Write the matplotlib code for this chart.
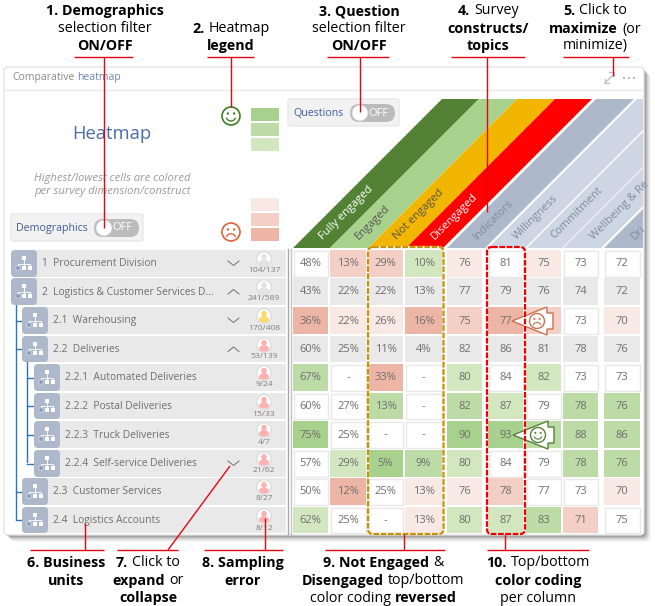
#!/usr/bin/env python3
import numpy as np
import matplotlib
matplotlib.use("Agg")
import matplotlib.pyplot as plt
from matplotlib.patches import Rectangle, Polygon, Circle, FancyBboxPatch, Ellipse

plt.rcParams['font.family'] = ['Open Sans', 'DejaVu Sans']

# --- data ---
unit_names = ["1  Procurement Division", "2  Logistics & Customer Services D...", "2.1  Warehousing",
              "2.2  Deliveries", "2.2.1  Automated Deliveries", "2.2.2  Postal Deliveries",
              "2.2.3  Truck Deliveries", "2.2.4  Self-service Deliveries", "2.3  Customer Services",
              "2.4  Logistics Accounts"]
unit_depth = [0, 0, 1, 1, 2, 2, 2, 2, 1, 1]
unit_toggle = ["down", "up", "down", "up", "", "", "", "down", "", ""]
unit_counts = ["104/137", "241/589", "170/408", "53/139", "9/24", "15/33", "4/7", "21/62", "8/27", "8/12"]
unit_status = ["ok", "ok", "warn", "bad", "bad", "bad", "bad", "bad", "bad", "bad"]

# last two are cut by the card edge in the screenshot
column_names = ["Fully engaged", "Engaged", "Not engaged", "Disengaged", "Indicators",
                "Willingness", "Commitment", "Wellbeing & Re", "Dri"]

fully_engaged = ["48%", "43%", "36%", "60%", "67%", "60%", "75%", "57%", "50%", "62%"]
engaged = ["13%", "22%", "22%", "25%", "-", "27%", "25%", "29%", "12%", "25%"]
not_engaged = ["29%", "22%", "26%", "11%", "33%", "13%", "-", "5%", "25%", "-"]
disengaged = ["10%", "13%", "16%", "4%", "-", "-", "-", "9%", "13%", "13%"]
indicators = ["76", "77", "75", "82", "80", "82", "90", "80", "76", "80"]
willingness = ["81", "79", "77", "86", "84", "87", "93", "84", "78", "87"]
commitment = ["75", "76", "", "81", "82", "79", "", "79", "77", "83"]
wellbeing = ["73", "74", "73", "78", "73", "78", "88", "78", "73", "71"]
drivers = ["72", "72", "70", "76", "73", "76", "86", "76", "70", "75"]

# heat level per cell: + green, - red, 0 white, 9 grey (expanded parent)
heat_levels = [
    [0, -2, -2, 1, -1, 0, -1, 0, 0],
    [9, 9, 9, 9, 9, 9, 9, 9, 9],
    [-3, -1, -1, -3, -2, -3, -2, 0, -1],
    [9, 9, 9, 9, 9, 9, 9, 9, 9],
    [2, 0, -3, 0, 1, 0, 1, 0, 0],
    [0, 0, 2, 0, 2, 1, 0, 2, 2],
    [3, 0, 0, 0, 3, 3, 2, 2, 2],
    [0, 1, 3, 2, 1, 0, 0, 2, 2],
    [0, -3, 0, -1, -1, -2, 0, 0, -1],
    [1, 0, 0, -1, 1, 1, 2, -2, 0],
]

# --- layout (pixels) ---
col_edges = [(293, 328), (330, 366), (368, 403), (405, 442), (447, 482),
             (488, 523), (526, 561), (563, 598), (604, 640)]
row_edges = [(250, 277), (278, 305), (307, 334), (336, 362), (364, 391),
             (393, 419), (421, 448), (450, 477), (478, 505), (507, 533)]
band_edges = [(293, 330), (330, 368), (368, 406), (406, 443), (447, 485),
              (488, 525), (527, 562), (563, 601), (604, 642)]
band_colors = ["#548235", "#A9D18E", "#F2B500", "#FF0000", "#ADB9CA",
               "#CFD6E3", "#CFD6E3", "#CFD6E3", "#ADB9CA"]
band_text_colors = ["white", "#555555", "#555555", "white", "#828B9B",
                    "#828B9B", "#828B9B", "#828B9B", "#828B9B"]
band_text_pos = [(346, 213), (373, 222), (419, 215), (455, 217), (493, 220),
                 (536, 217), (577, 213), (592, 238), (633, 238)]
heat_colors = {3: "#A9D18E", 2: "#BCDBA6", 1: "#D2E6C0", 0: "white", 9: "#E9E9E9",
               -1: "#F8E9E5", -2: "#F3CFC5", -3: "#ECB5A5"}
status_colors = {"ok": "#E4E4E4", "warn": "#FFD966", "bad": "#FFB0B0"}

RED = "#E30613"
GREY_TXT = "#6F6F6F"
BLUE_TXT = "#3F5E9A"
ICON = "#ADB9CA"

fig = plt.figure(figsize=(6.55, 6.06), dpi=100)
ax = fig.add_axes([0, 0, 1, 1])
ax.set_xlim(0, 655)
ax.set_ylim(606, 0)
ax.axis("off")
renderer = fig.canvas.get_renderer()


def rbox(x0, y0, x1, y1, fc, ec="none", r=3, lw=1, z=1, alpha=None):
    p = FancyBboxPatch((x0, y0), x1 - x0, y1 - y0, boxstyle=f"round,pad=0,rounding_size={r}",
                       fc=fc, ec=ec, lw=lw, zorder=z, alpha=alpha)
    ax.add_patch(p)
    return p


def rich_line(cx, y, runs, size=10.3, gap=4, z=20):
    # draws bold/regular pieces side by side, centred on cx
    parts = []
    for s, bold in runs:
        t = ax.text(0, y + 1, s, fontsize=size, fontweight="bold" if bold else "normal",
                    color="black", va="center", ha="left", zorder=z)
        parts.append((t, t.get_window_extent(renderer).width))
    total = sum(w for _, w in parts) + gap * (len(parts) - 1)
    x = cx - total / 2
    for t, w in parts:
        t.set_x(x)
        x += w + gap


def smiley(x, y, r, color, happy=True, z=5, lw=1.2):
    ax.add_patch(Circle((x, y), r, fc="white", ec=color, lw=lw, zorder=z))
    ax.add_patch(Circle((x - r * 0.35, y - r * 0.28), r * 0.09, fc=color, ec=color, lw=0.5, zorder=z + 1))
    ax.add_patch(Circle((x + r * 0.35, y - r * 0.28), r * 0.09, fc=color, ec=color, lw=0.5, zorder=z + 1))
    a = np.linspace(0.15 * np.pi, 0.85 * np.pi, 30)
    if happy:
        ax.plot(x + r * 0.55 * np.cos(a), y + r * 0.55 * np.sin(a), color=color, lw=lw * 0.8, zorder=z + 1)
    else:
        ax.plot(x + r * 0.55 * np.cos(a), y + r * 0.75 - r * 0.55 * np.sin(a), color=color, lw=lw * 0.8, zorder=z + 1)


def toggle(x0, y0, x1, y1, knob_x):
    rbox(x0, y0, x1, y1, "#BBBBBB", r=9, z=6)
    ax.add_patch(Circle((knob_x, (y0 + y1) / 2), 8, fc="white", ec="#D0D0D0", lw=0.6, zorder=7))
    ax.text((knob_x + x1) / 2 + 1, (y0 + y1) / 2, "OFF", color="white", fontsize=8, ha="center", va="center",
            zorder=7)


def org_icon(x0, y0, x1, y1):
    rbox(x0, y0, x1, y1, ICON, r=4, z=4)
    cx = (x0 + x1) / 2
    my = (y0 + y1) / 2
    ax.plot([cx, cx], [my - 5, my + 3], color="white", lw=0.6, zorder=5)
    ax.plot([cx - 6, cx + 6], [my, my], color="white", lw=0.6, zorder=5)
    for dx in (-6, 6):
        ax.plot([cx + dx, cx + dx], [my, my + 3], color="white", lw=0.6, zorder=5)
    ax.add_patch(Rectangle((cx - 2.2, my - 7.5), 4.4, 4.4, fc="white", zorder=5))
    ax.add_patch(Rectangle((cx - 8.2, my + 2), 4.4, 4.4, fc="#8498BA", ec="white", lw=0.3, zorder=5))
    ax.add_patch(Rectangle((cx - 2.2, my + 2), 4.4, 4.4, fc="white", zorder=5))
    ax.add_patch(Rectangle((cx + 3.8, my + 2), 4.4, 4.4, fc="white", zorder=5))


def callout(tip_x, y, color, happy):
    pts = [(tip_x, y), (tip_x + 35, y - 14), (tip_x + 35, y - 8), (tip_x + 41, y - 8),
           (tip_x + 41, y + 8), (tip_x + 35, y + 8), (tip_x + 35, y + 14)]
    ax.add_patch(Polygon(pts, closed=True, fc="white", ec=color, lw=1, zorder=8))
    smiley(tip_x + 25, y, 7.5, color, happy, z=11, lw=1)


# --- card with shadow ---
for i, a in zip(range(7, 0, -1), [0.04, 0.06, 0.08, 0.1, 0.14, 0.18, 0.25]):
    rbox(4 + i, 67 + i, 644 + i, 535 + i, "#404040", r=5, z=0.5, alpha=a)
card = rbox(4, 67, 644, 535, "white", ec="#E4E4E4", r=4, z=1)

ax.plot([5, 643], [90, 90], color="#E8E8E8", lw=1, zorder=2)
t = ax.text(12, 77.5, "Comparative", color="#8A8A8A", fontsize=7.5, va="center", zorder=3)
ax.text(12 + t.get_window_extent(renderer).width + 3, 77.5, "heatmap", color="#6C86AE", fontsize=7.5,
        va="center", zorder=3)

# maximize icon and menu dots
ax.plot([605, 612], [83, 76], color="#B9C4D6", lw=1, zorder=3)
ax.plot([605, 605, 609], [79, 83, 83], color="#B9C4D6", lw=1, zorder=3)
ax.plot([609, 614, 614], [72, 72, 76], color="#B9C4D6", lw=1, zorder=3)
for dx in (624, 629, 634):
    ax.add_patch(Circle((dx, 78), 1, fc="#A8A8A8", ec="none", zorder=3))

# --- left header ---
ax.text(112, 134, "Heatmap", color="#4A6DA7", fontsize=13.2, ha="center", va="center", zorder=3)
ax.text(112, 178.5, "Highest/lowest cells are colored", color="#9A9A9A", fontsize=8.1, style="italic",
        ha="center", va="center", zorder=3)
ax.text(112, 191.5, "per survey dimension/construct", color="#9A9A9A", fontsize=8.1, style="italic",
        ha="center", va="center", zorder=3)

rbox(11, 214, 143, 241, "#F2F2F2", ec="#E8E8E8", r=2, z=2)
ax.text(16, 228, "Demographics", color=BLUE_TXT, fontsize=7.7, va="center", zorder=3)
toggle(94, 219, 139, 237, 104)

rbox(288, 99, 399, 126, "#F2F2F2", ec="#E8E8E8", r=2, z=2)
ax.text(293, 113, "Questions", color=BLUE_TXT, fontsize=7.7, va="center", zorder=3)
toggle(350, 104, 395, 122, 360)

# legend
smiley(231, 116, 9, "#3F7F1F")
for y0, lev in zip((108, 123, 138), (3, 2, 1)):
    ax.add_patch(Rectangle((251, y0), 28, 13, fc=heat_colors[lev], ec="none", zorder=3))
for y0, lev in zip((198, 213, 228), (-1, -2, -3)):
    ax.add_patch(Rectangle((251, y0), 28, 13, fc=heat_colors[lev], ec="none", zorder=3))
smiley(231, 232, 9, "#E0603A", happy=False)

# --- diagonal column headers ---
clip_rect = Rectangle((0, 99), 643, 149, transform=ax.transData)
rise = 149
for (x0, x1), c in zip(band_edges, band_colors):
    band = Polygon([(x0, 248), (x1, 248), (x1 + rise, 99), (x0 + rise, 99)], closed=True, fc=c, ec="none", zorder=2)
    ax.add_patch(band)
    band.set_clip_path(clip_rect)
for i, name in enumerate(column_names):
    px, py = band_text_pos[i]
    anchor = "left" if i >= 7 else "center"
    ax.text(px, py, name, color=band_text_colors[i], fontsize=8, rotation=45, ha=anchor, va="center",
            rotation_mode="anchor", zorder=3)

# --- business unit rows ---
depth_icon_x = [11, 22, 34]
depth_text_x = [42, 53, 65]
for i, name in enumerate(unit_names):
    y0, y1 = row_edges[i]
    d = unit_depth[i]
    ax.add_patch(Rectangle((depth_icon_x[d] + 8, y0), 286 - depth_icon_x[d] - 8, y1 - y0, fc="#E9E9E9", ec="none", zorder=2))
    org_icon(depth_icon_x[d], y0, depth_icon_x[d] + 26, y1)
    ax.text(depth_text_x[d], (y0 + y1) / 2 + 0.5, name, color=GREY_TXT, fontsize=7.4, va="center", zorder=5)
    cy = (y0 + y1) / 2
    if unit_toggle[i] == "down":
        ax.plot([228, 233.5, 239], [cy - 2.5, cy + 2, cy - 2.5], color="#707070", lw=0.7, zorder=5)
    elif unit_toggle[i] == "up":
        ax.plot([228, 233.5, 239], [cy + 2.5, cy - 2, cy + 2.5], color="#707070", lw=0.7, zorder=5)
    # sampling error person
    ax.add_patch(Circle((264, y0 + 9), 7.2, fc="white", ec="#D8D8D8", lw=0.8, zorder=5))
    col = status_colors[unit_status[i]]
    ax.add_patch(Ellipse((264, y0 + 7), 5.5, 6.5, fc=col, ec="none", zorder=6))
    ax.add_patch(Ellipse((264, y0 + 12.5), 10, 6, fc=col, ec="none", zorder=6))
    ax.text(264, y0 + 21, unit_counts[i], color="#808080", fontsize=6.1, ha="center", va="center", zorder=6)

# tree connectors
ax.plot([16, 16], [305, 519], color="#2E75B6", lw=1, zorder=3)
for i in (2, 3, 8, 9):
    cy = sum(row_edges[i]) / 2
    ax.plot([16, 22], [cy, cy], color="#2E75B6", lw=1, zorder=3)
ax.plot([27, 27], [362, 462], color="#2E75B6", lw=1, zorder=3)
for i in (4, 5, 6, 7):
    cy = sum(row_edges[i]) / 2
    ax.plot([27, 34], [cy, cy], color="#2E75B6", lw=1, zorder=3)

# separator between names and values
ax.plot([288, 288], [249, 534], color="#A8A8A8", lw=1, zorder=3)
ax.plot([291, 291], [249, 534], color="#C4C4C4", lw=1, zorder=3)

# --- heatmap cells ---
columns = [fully_engaged, engaged, not_engaged, disengaged, indicators, willingness, commitment, wellbeing, drivers]
for r, (y0, y1) in enumerate(row_edges):
    for c, (x0, x1) in enumerate(col_edges):
        lev = heat_levels[r][c]
        if lev == 0:
            ax.add_patch(Rectangle((x0 + 0.5, y0 + 0.5), x1 - x0 - 1, y1 - y0 - 1, fc="white", ec="#E8E8E8", lw=1, zorder=3))
        else:
            ax.add_patch(Rectangle((x0, y0), x1 - x0, y1 - y0, fc=heat_colors[lev], ec="none", zorder=3))
        ax.text((x0 + x1) / 2, (y0 + y1) / 2 + 0.5, columns[c][r], color=GREY_TXT, fontsize=8,
                ha="center", va="center", zorder=4)

# --- highlighted columns ---
for (x0, x1), col in (((368, 443.5), "#C79100"), ((487, 525), "#F00000")):
    rbox(x0, 247, x1, 534, "none", ec="white", r=5, lw=1.6, z=9)
    p = rbox(x0, 247, x1, 534, "none", ec=col, r=5, lw=1.6, z=10)
    p.set_linestyle((0, (2.6, 0.7)))

callout(512, 321, "#C9704F", False)
callout(513, 435, "#548235", True)

# --- annotations on top ---
rich_line(105, 10, [("1. Demographics", True)])
rich_line(104.5, 28, [("selection filter", False)])
rich_line(104.5, 45, [("ON/OFF", True)])
rich_line(231, 28, [("2.", True), ("Heatmap", False)])
rich_line(231, 45, [("legend", True)])
rich_line(359, 10, [("3. Question", True)])
rich_line(359, 28, [("selection filter", False)])
rich_line(359, 45, [("ON/OFF", True)])
rich_line(488, 10, [("4.", True), ("Survey", False)])
rich_line(488, 28, [("constructs/", True)])
rich_line(488, 45, [("topics", True)])
rich_line(595, 10, [("5.", True), ("Click to", False)])
rich_line(595, 28, [("maximize", True), ("(or", False)])
rich_line(595, 45, [("minimize)", False)])

rich_line(66, 562, [("6. Business", True)])
rich_line(66, 580, [("units", True)])
rich_line(148, 562, [("7.", True), ("Click to", False)])
rich_line(148, 580, [("expand", True), ("or", False)])
rich_line(148, 597, [("collapse", True)])
rich_line(243, 562, [("8. Sampling", True)])
rich_line(243, 580, [("error", True)])
rich_line(383, 562, [("9. Not Engaged", True), ("&", False)])
rich_line(383, 580, [("Disengaged", True), ("top/bottom", False)])
rich_line(383, 597, [("color coding", False), ("reversed", True)])
rich_line(538, 562, [("10.", True), ("Top/bottom", False)])
rich_line(538, 580, [("color coding", True)])
rich_line(538, 597, [("per column", False)])

# underlines and leader lines
top_leaders = [(74, 133, 103.5, 228), (207, 254, 231, 107), (327, 389, 359.5, 112),
               (451, 525, 487, 212), (563, 629, 612.5, 76)]
for x0, x1, lx, ly in top_leaders:
    ax.plot([x0, x1], [57, 57], color=RED, lw=1, zorder=25, solid_capstyle="butt")
    ax.plot([lx, lx], [57, ly], color=RED, lw=1, zorder=25, solid_capstyle="butt")

bottom_leaders = [(30, 104, 85, 550, 85, 523), (117, 178, 168, 550, 230, 466), (204, 283, 264.5, 550, 264.5, 518),
                  (325, 445, 404, 550, 404, 534), (487, 589, 505, 550, 505, 534)]
for x0, x1, lx0, ly0, lx1, ly1 in bottom_leaders:
    ax.plot([x0, x1], [550, 550], color=RED, lw=1, zorder=25, solid_capstyle="butt")
    ax.plot([lx0, lx1], [ly0, ly1], color=RED, lw=1, zorder=25, solid_capstyle="butt")

fig.savefig("out.png", dpi=100)
